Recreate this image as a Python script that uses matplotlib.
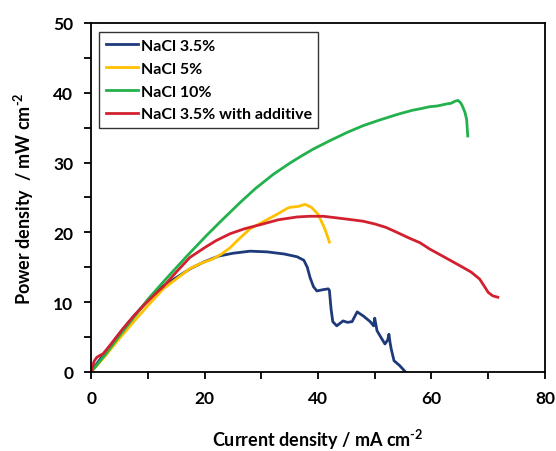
import matplotlib
matplotlib.use("Agg")
import matplotlib.pyplot as plt
from matplotlib.ticker import MultipleLocator

plt.rcParams['font.family'] = ['Lato', 'DejaVu Sans']
plt.rcParams['font.weight'] = 'bold'
plt.rcParams['mathtext.fontset'] = 'custom'
plt.rcParams['mathtext.rm'] = 'Lato:bold'
plt.rcParams['mathtext.bf'] = 'Lato:bold'
plt.rcParams['mathtext.default'] = 'rm'

# NaCl 3.5%
x_blue = [0, 1, 2.5, 5, 7.5, 10, 12.5, 15, 17.5, 20, 22.5, 25, 28, 31, 34, 36.3, 37.5, 38.1,
          38.6, 39.2, 39.8, 41.0, 41.8, 42.0, 42.3, 42.6, 43.3, 44.4, 45.2, 46.0, 46.9, 48.0,
          49.2, 49.8, 50.0, 50.4, 51.2, 51.8, 52.3, 52.5, 52.7, 52.9, 53.4, 54.4, 55.3]
y_blue = [0, 1.2, 2.8, 5.5, 8.0, 10.2, 12.2, 13.5, 14.8, 15.8, 16.6, 17.0, 17.3, 17.2, 16.9,
          16.5, 16.0, 15.0, 13.5, 12.2, 11.6, 11.8, 11.9, 11.7, 9.0, 7.2, 6.6, 7.3, 7.1, 7.2,
          8.6, 8.0, 7.2, 6.6, 7.7, 5.9, 4.8, 4.0, 4.6, 5.4, 4.2, 3.3, 1.6, 0.9, 0.1]

# NaCl 5%
x_yellow = [0, 1, 2.5, 5, 7.5, 10, 12.7, 15, 17.4, 19.5, 21.5, 23, 24.5, 26, 28, 30.3, 32.8,
            34.5, 35.1, 36.5, 37.7, 38.8, 40, 41.2, 42.0]
y_yellow = [0, 0.9, 2.3, 4.8, 7.2, 9.5, 11.9, 13.3, 14.8, 15.6, 16.2, 16.9, 17.8, 19.0, 20.5,
            21.5, 22.6, 23.4, 23.6, 23.7, 24.0, 23.6, 22.6, 20.5, 18.6]

# NaCl 10%
x_green = [0, 2.5, 5, 7.5, 10, 12.5, 14.4, 17, 20.4, 23, 26.3, 29, 32.1, 35, 37, 39.1, 42,
           45.1, 48, 50.9, 54, 56.7, 58, 59.7, 61, 62.7, 63.5, 64.2, 64.7, 65.2, 65.5, 65.9,
           66.2, 66.4]
y_green = [0, 2.5, 5.2, 7.8, 10.4, 12.7, 14.4, 16.7, 19.6, 21.7, 24.3, 26.3, 28.3, 29.9, 30.9,
           31.9, 33.1, 34.3, 35.3, 36.1, 36.9, 37.5, 37.7, 38.0, 38.1, 38.4, 38.5, 38.8, 38.9,
           38.5, 38.0, 37.2, 36.2, 33.8]

# NaCl 3.5% with additive
x_red = [0, 0.5, 1.0, 2.1, 3.5, 5.6, 7.5, 9.2, 11.6, 12.7, 15, 17.4, 20, 22, 24.5, 27, 30.3,
         33, 36.3, 38.5, 40.9, 43, 45, 47.9, 50, 52, 53.9, 56, 58, 59.7, 61.5, 63.5, 65.5,
         67, 68.5, 69.3, 70.0, 70.8, 71.7]
y_red = [0, 1.5, 2.1, 2.6, 4.0, 6.2, 8.0, 9.5, 11.4, 12.2, 14.3, 16.4, 17.8, 18.8, 19.8, 20.5,
         21.2, 21.8, 22.2, 22.3, 22.3, 22.1, 21.9, 21.6, 21.2, 20.7, 20.0, 19.2, 18.5, 17.6,
         16.8, 15.9, 15.0, 14.3, 13.3, 12.3, 11.4, 10.9, 10.7]

series = [
    ("NaCl 3.5%", x_blue, y_blue, "#1f3a7a"),
    ("NaCl 5%", x_yellow, y_yellow, "#ffc000"),
    ("NaCl 10%", x_green, y_green, "#22b14c"),
    ("NaCl 3.5% with additive", x_red, y_red, "#d2202f"),
]

fig = plt.figure(figsize=(5.56, 4.52), dpi=100)
ax = fig.add_axes([0.164, 0.175, 0.816, 0.772])

for label, xs, ys, c in series:
    ax.plot(xs, ys, color=c, lw=2.0, label=label)

ax.set_xlim(0, 80)
ax.set_ylim(0, 50)
ax.xaxis.set_major_locator(MultipleLocator(20))
ax.xaxis.set_minor_locator(MultipleLocator(10))
ax.yaxis.set_major_locator(MultipleLocator(10))
ax.yaxis.set_minor_locator(MultipleLocator(5))
ax.tick_params(which='both', direction='out', width=1.3, colors='black', labelsize=12.5)
ax.tick_params(which='both', length=5)
ax.tick_params(axis='x', which='major', pad=8)
ax.tick_params(axis='y', which='major', pad=8)
for lab in ax.get_xticklabels() + ax.get_yticklabels():
    lab.set_fontweight('bold')
for sp in ax.spines.values():
    sp.set_linewidth(1.3)
    sp.set_color('black')

ax.set_xlabel(r'Current density / mA cm$^{\text{-2}}$', fontsize=13, fontweight='bold', labelpad=15)
ax.set_ylabel(r'Power density  / mW cm$^{\text{-2}}$', fontsize=13, fontweight='bold', labelpad=12)

leg = ax.legend(loc='upper left', bbox_to_anchor=(0.0176, 0.974), fontsize=11.5,
                frameon=True, fancybox=False, edgecolor='black', handlelength=2.0,
                handletextpad=0.2, borderpad=0.4, labelspacing=0.55, borderaxespad=0)
leg.get_frame().set_linewidth(1.0)
for t in leg.get_texts():
    t.set_fontweight('bold')

fig.savefig("out.png", dpi=100)
